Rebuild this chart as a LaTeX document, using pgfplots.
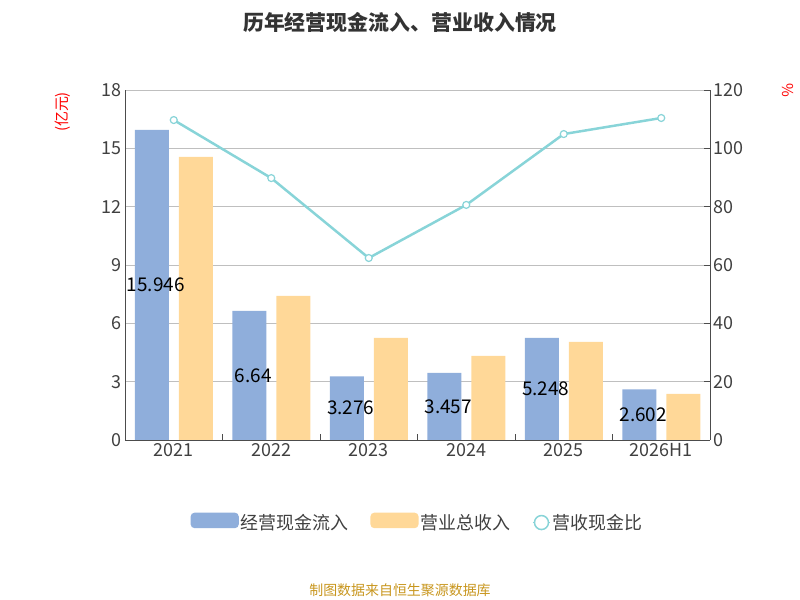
\documentclass[border=0pt]{standalone}
\usepackage{pgfplots}
\pgfplotsset{compat=1.18}
\usepackage{fontspec}
\setmainfont{Noto Sans CJK SC}
\definecolor{cb}{HTML}{8FAEDB}
\definecolor{co}{HTML}{FFD898}
\definecolor{cl}{HTML}{88D4D8}
\definecolor{cf}{HTML}{C8961E}
\begin{document}
\begin{tikzpicture}
\path (0bp,0bp) rectangle (800bp,600bp);
\node[font=\fontsize{21}{24}\selectfont\bfseries,text=black!80] at (400bp,578bp) {历年经营现金流入、营业收入情况};
\node[font=\fontsize{14}{16}\selectfont,text=cf] at (400bp,10bp) {制图数据来自恒生聚源数据库};
\node[font=\fontsize{15}{17}\selectfont,text=red,rotate=90] at (63bp,488bp) {(亿元)};
\node[font=\fontsize{15}{17}\selectfont,text=red,rotate=-90] at (788bp,510bp) {\%};
\begin{axis}[at={(125bp,160bp)},anchor=south west,scale only axis,width=585bp,height=350bp,
 xmin=-0.5,xmax=5.5,ymin=0,ymax=18,ytick={0,3,...,18},
 xtick={0,...,5},xticklabels={2021,2022,2023,2024,2025,2026H1},
 minor xtick={-0.5,0.5,...,5.5},major tick length=0pt,
 minor tick length=6bp,
 axis y line*=left,axis x line*=bottom,axis line style={black!70,-},
 ymajorgrids,grid style={black!25,line width=0.8pt},
 yticklabel style={/pgf/number format/assume math mode=true},
 ticklabel style={font=\fontsize{18}{20}\selectfont,text=black!75},
 every tick/.style={black!70},
 legend style={at={(0.5,-0.2)},anchor=north,draw=none,legend columns=3,font=\fontsize{18}{20}\selectfont,text=black!75,/tikz/every even column/.append style={column sep=20bp}},
]
\addplot[ybar,bar width=34bp,bar shift=-22bp,fill=cb,draw=none,
 legend image code/.code={\fill[cb,rounded corners=4bp] (-0.1cm,-0.2cm) rectangle (1.6cm,0.35cm);}]
 coordinates {(0,15.946) (1,6.64) (2,3.276) (3,3.457) (4,5.248) (5,2.602)};
\addlegendentry{经营现金流入}
\addplot[ybar,bar width=34bp,bar shift=22bp,fill=co,draw=none,
 legend image code/.code={\fill[co,rounded corners=4bp] (-0.1cm,-0.2cm) rectangle (1.6cm,0.35cm);}]
 coordinates {(0,14.56) (1,7.41) (2,5.25) (3,4.32) (4,5.04) (5,2.37)};
\addlegendentry{营业总收入}
\addlegendimage{cl,line width=1.5pt,mark=*,mark size=7bp,mark options={fill=white}}
\addlegendentry{营收现金比}
\addplot[draw=none,mark=none,forget plot,nodes near coords,point meta=explicit symbolic,
 every node near coord/.append style={font=\fontsize{19}{21}\selectfont,text=black,anchor=center,xshift=-18bp}]
 table[meta=l]{
x y l
0 7.973 15.946
1 3.32 6.64
2 1.638 3.276
3 1.7285 3.457
4 2.624 5.248
5 1.301 2.602
};
\end{axis}
\begin{axis}[at={(125bp,160bp)},anchor=south west,scale only axis,width=585bp,height=350bp,
 xmin=-0.5,xmax=5.5,ymin=0,ymax=120,ytick={0,20,...,120},
 axis y line*=right,axis x line=none,axis line style={black!70,-},
 yticklabel style={/pgf/number format/assume math mode=true},
 ticklabel style={font=\fontsize{18}{20}\selectfont,text=black!75},
 every tick/.style={black!70},major tick length=6bp]
\addplot[cl,line width=2.5pt,mark=*,mark size=3.5pt,mark options={fill=white,line width=1.2pt}]
 coordinates {(0,109.7) (1,89.8) (2,62.4) (3,80.6) (4,104.9) (5,110.4)};
\end{axis}
\end{tikzpicture}
\end{document}
